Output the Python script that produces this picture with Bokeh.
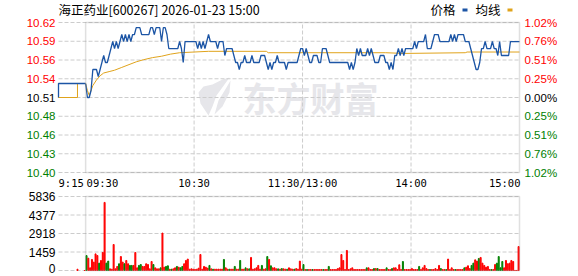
from bokeh.plotting import figure
from bokeh.layouts import column
from bokeh.models import (Range1d, Label, BoxAnnotation, PolyAnnotation, ColumnDataSource)
from bokeh.embed import file_html
from bokeh.resources import INLINE

# ---------------- data ----------------
title_text = "海正药业[600267] 2026-01-23 15:00"
pre_close = 10.51
pct_ticks = [1.02, 0.765, 0.51, 0.255, 0.0, -0.255, -0.51, -0.765, -1.02]
price_labels = ["10.62", "10.59", "10.56", "10.54", "10.51", "10.48", "10.46", "10.43", "10.40"]
pct_labels = ["1.02%", "0.76%", "0.51%", "0.25%", "0.00%", "0.25%", "0.51%", "0.76%", "1.02%"]
time_ticks = [-15, 0, 60, 120, 180, 240]
time_labels = ["9:15", "09:30", "10:30", "11:30/13:00", "14:00", "15:00"]
vol_ticks = [0, 1459, 2918, 4377, 5836]

# pre-market (9:15-9:30)
pre_x = [-15, -15, 0]
pre_price = [10.51, 10.53, 10.53]
pre_avg_x = [-15, -15, -4.5, -4.5, 0]
pre_avg = [10.53, 10.51, 10.51, 10.53, 10.53]
pre_vol_x = [-4.5]
pre_vol = [100]

# one price per minute, 9:30 .. 11:30 | 13:01 .. 15:00
price = [
    10.53, 10.51, 10.51, 10.52, 10.55, 10.55, 10.55, 10.54, 10.55, 10.56,
    10.57, 10.56, 10.56, 10.57, 10.58, 10.59, 10.58, 10.59, 10.58, 10.59,
    10.60, 10.59, 10.60, 10.59, 10.60, 10.59, 10.60, 10.60, 10.61, 10.61,
    10.61, 10.60, 10.60, 10.60, 10.60, 10.60, 10.61, 10.61, 10.60, 10.61,
    10.61, 10.61, 10.59, 10.61, 10.61, 10.60, 10.58, 10.58, 10.58, 10.58,
    10.58, 10.58, 10.59, 10.58, 10.56, 10.59, 10.59, 10.59, 10.59, 10.59,
    10.59, 10.59, 10.58, 10.59, 10.58, 10.59, 10.58, 10.59, 10.60, 10.59,
    10.59, 10.59, 10.59, 10.58, 10.59, 10.59, 10.59, 10.57, 10.58, 10.58,
    10.58, 10.58, 10.57, 10.56, 10.56, 10.55, 10.56, 10.56, 10.57, 10.56,
    10.56, 10.56, 10.57, 10.56, 10.56, 10.56, 10.56, 10.57, 10.57, 10.57,
    10.56, 10.55, 10.56, 10.55, 10.56, 10.56, 10.57, 10.56, 10.56, 10.56,
    10.56, 10.55, 10.56, 10.56, 10.56, 10.56, 10.56, 10.56, 10.57, 10.58,
    10.58, 10.57, 10.58, 10.57, 10.56, 10.56, 10.57, 10.57, 10.57, 10.56,
    10.56, 10.58, 10.58, 10.58, 10.57, 10.56, 10.56, 10.56, 10.56, 10.56,
    10.56, 10.56, 10.56, 10.56, 10.56, 10.56, 10.55, 10.56, 10.55, 10.56,
    10.58, 10.57, 10.58, 10.57, 10.57, 10.57, 10.58, 10.57, 10.58, 10.57,
    10.56, 10.56, 10.56, 10.57, 10.57, 10.57, 10.56, 10.56, 10.55, 10.56,
    10.55, 10.57, 10.57, 10.58, 10.57, 10.58, 10.57, 10.58, 10.58, 10.58,
    10.58, 10.58, 10.59, 10.58, 10.59, 10.59, 10.59, 10.59, 10.60, 10.58,
    10.58, 10.58, 10.59, 10.60, 10.60, 10.60, 10.59, 10.59, 10.59, 10.59,
    10.59, 10.59, 10.60, 10.59, 10.60, 10.59, 10.60, 10.60, 10.60, 10.60,
    10.59, 10.59, 10.59, 10.58, 10.57, 10.56, 10.55, 10.55, 10.56, 10.58,
    10.58, 10.59, 10.58, 10.58, 10.58, 10.59, 10.58, 10.58, 10.57, 10.59,
    10.57, 10.57, 10.57, 10.57, 10.57, 10.59, 10.59, 10.59, 10.59, 10.59,
    10.59,
]

# average-price line (minute, value)
avg_x = [0, 1, 2, 4, 6, 8, 10, 13, 16, 20, 24, 28, 32, 37, 42, 47, 52, 60,
         68, 100, 101, 166, 176, 210, 211, 240]
avg_y = [10.53, 10.52, 10.513, 10.527, 10.535, 10.541, 10.545, 10.547, 10.549,
         10.553, 10.557, 10.561, 10.564, 10.567, 10.569, 10.572, 10.574, 10.575,
         10.576, 10.576, 10.574, 10.574, 10.573, 10.574, 10.575, 10.575]

# volume per minute and direction (r = up, g = down)
volume = [
    0, 1180, 970, 210, 870, 660, 1310, 1180, 580, 790,
    1420, 5370, 580, 740, 130, 100, 2050, 130, 320, 530,
    1100, 660, 530, 790, 530, 400, 400, 400, 1420, 210,
    400, 470, 320, 320, 530, 470, 130, 710, 470, 210,
    130, 130, 210, 2950, 260, 320, 370, 100, 100, 130,
    210, 320, 260, 210, 320, 530, 790, 900, 100, 130,
    100, 80, 100, 180, 1260, 100, 320, 260, 180, 400,
    130, 100, 100, 100, 100, 100, 100, 870, 210, 100,
    100, 100, 100, 320, 100, 100, 790, 100, 100, 210,
    130, 130, 1030, 100, 130, 210, 400, 100, 400, 100,
    130, 1100, 870, 370, 210, 210, 130, 130, 100, 150,
    130, 100, 100, 210, 130, 100, 100, 150, 100, 740,
    100, 470, 80, 80, 80, 80, 80, 80, 80, 80,
    80, 80, 80, 80, 80, 320, 80, 80, 80, 80,
    150, 210, 1260, 790, 80, 1580, 80, 130, 210, 80,
    80, 80, 80, 80, 80, 80, 210, 210, 80, 80,
    150, 150, 150, 80, 80, 80, 80, 210, 80, 80,
    150, 210, 210, 80, 450, 80, 710, 80, 80, 80,
    80, 150, 80, 80, 80, 320, 80, 210, 400, 150,
    80, 80, 80, 80, 150, 80, 400, 150, 80, 80,
    80, 900, 80, 210, 80, 80, 80, 80, 80, 80,
    210, 260, 370, 150, 400, 580, 840, 740, 950, 1030,
    580, 400, 260, 320, 80, 80, 80, 470, 580, 1100,
    210, 710, 210, 790, 530, 580, 790, 710, 0, 0,
    1890,
]
vol_dir = ("rgrrrrrrgr" "rrggrrrrrg" "rrgrrggrrr" "ggrrrrrrgr" "rrgrrggrgr"
           "rgrggrrrrr" "rrrrrrrrrg" "rgrrrrrgrr" "grrgrrgrrg" "rgrrrrrrgr"
           "rgrgrrrgrg" "rrgrrrgrrr" "rgrgrrgrrr" "rrgrrgrrrr" "rrrrrrrrrr"
           "rrrrrrgrrr" "grgrrrrgrr" "grrrrrgrrr" "rrrrrgrrrr" "rgrrrrrgrr"
           "grrrrgrrrr" "grrrggrrgr" "rrrrrgrrgg" "ggrrrrrrrrr")

# ---------------- styling / layout ----------------
BLUE = "#1c55a5"
ORANGE = "#e0a31b"
RED = "#ff0000"
GREEN = "#008000"
GRID = "#cccccc"
BORDER = "#999999"
DASH = "4 2"
NUM_FONT = "Liberation Sans"
MONO = "DejaVu Sans Mono"
CJK = "Noto Sans CJK SC"

W = 578
PLOT_L, PLOT_R = 58, 519           # pixel span of minutes -15 .. 240
PH, P_TOP, P_BOT = 190, 22, 172    # price canvas height and frame pixels
VH, V_TOP, V_BOT = 86, 6, 80       # volume canvas height and frame pixels

minutes = list(range(len(price)))
price_ticks = [pre_close * (1 + q / 100.0) for q in pct_ticks]
lo, hi = price_ticks[-1], price_ticks[0]

t0, t1 = time_ticks[0], time_ticks[-1]
ppm = (PLOT_R - PLOT_L) / (t1 - t0)
x_range = Range1d(t0 - PLOT_L / ppm, t1 + (W - PLOT_R) / ppm)

pu = (hi - lo) / (P_BOT - P_TOP)
p = figure(width=W, height=PH, x_range=x_range,
           y_range=Range1d(lo - (PH - P_BOT) * pu, hi + P_TOP * pu),
           x_axis_type=None, y_axis_type=None, toolbar_location=None,
           output_backend="svg", title=None,
           min_border_left=0, min_border_right=0, min_border_top=0, min_border_bottom=0)
p.outline_line_color = None
p.background_fill_color = "white"
p.border_fill_color = "white"

# watermark
p.add_layout(Label(x=310, y=PH - 97, x_units="screen", y_units="screen", text="东方财富",
                   text_font=CJK, text_font_style="bold", text_font_size="34px",
                   text_color="#e6e6ea", text_align="center", text_baseline="middle",
                   level="image"))
logo1 = [(208, 115), (200, 103), (198, 92), (203, 86), (212, 84), (222, 79),
         (229, 77), (224, 84), (216, 95), (212, 106)]
logo2 = [(214, 114), (218, 100), (226, 87), (230, 80), (229, 92), (222, 106)]
for shape in (logo1, logo2):
    p.add_layout(PolyAnnotation(xs=[a for a, b in shape], ys=[PH - b for a, b in shape],
                                xs_units="screen", ys_units="screen",
                                fill_color="#e6e6ea", fill_alpha=1, line_alpha=0,
                                level="image"))

# dashed grid
vgrid = time_ticks[2:5]
p.segment(x0=[t0] * len(price_ticks), x1=[t1] * len(price_ticks), y0=price_ticks, y1=price_ticks,
          line_color=GRID, line_dash=DASH, line_width=1)
p.segment(x0=vgrid, x1=vgrid, y0=[lo] * 3, y1=[hi] * 3,
          line_color=GRID, line_dash=DASH, line_width=1)

p.line(pre_avg_x, pre_avg, color=ORANGE, line_width=1)
p.line(pre_x, pre_price, color=BLUE, line_width=1.3)
p.line(avg_x, avg_y, color=ORANGE, line_width=1)
p.line(minutes, price, color=BLUE, line_width=1.3)

p.add_layout(BoxAnnotation(left=0, right=t1, bottom=lo, top=hi, fill_alpha=0,
                           line_color=BORDER, line_width=1.5))

def sign_color(val):
    return RED if val > 0 else (GREEN if val < 0 else "#000000")

for val, pct, lab, plab in zip(price_ticks, pct_ticks, price_labels, pct_labels):
    c = sign_color(pct)
    p.add_layout(Label(x=PLOT_L - 3, y=val, x_units="screen", y_units="data", text=lab,
                       text_align="right", text_baseline="middle", text_color=c,
                       text_font=NUM_FONT, text_font_size="11.5px"))
    p.add_layout(Label(x=PLOT_R + 5, y=val, x_units="screen", y_units="data", text=plab,
                       text_align="left", text_baseline="middle", text_color=c,
                       text_font=NUM_FONT, text_font_size="11.5px"))

aligns = ["left", "left", "center", "center", "center", "right"]
offs = [0, 1, 0, 0, 0, 1]
for t, lab, al, off in zip(time_ticks, time_labels, aligns, offs):
    p.add_layout(Label(x=t, y=PH - 182, x_units="data", y_units="screen", text=lab,
                       x_offset=off, text_align=al, text_baseline="middle",
                       text_color="#000000", text_font=MONO, text_font_size="10.5px"))

# title and legend
def top_text(x, txt):
    p.add_layout(Label(x=x, y=PH - 9, x_units="screen", y_units="screen", text=txt,
                       text_align="left", text_baseline="middle", text_color="#000000",
                       text_font=CJK, text_font_size="12.5px"))

top_text(PLOT_L, title_text)
top_text(430, "价格")
top_text(475, "均线")
for lx, col in ((462, BLUE), (507, ORANGE)):
    p.add_layout(BoxAnnotation(left=lx, right=lx + 5, bottom=PH - 11, top=PH - 8,
                               left_units="screen", right_units="screen",
                               bottom_units="screen", top_units="screen",
                               fill_color=col, fill_alpha=1, line_alpha=0))

# ---------------- volume ----------------
vmax = vol_ticks[-1]
vu = vmax / (V_BOT - V_TOP)
v = figure(width=W, height=VH, x_range=x_range,
           y_range=Range1d(-(VH - V_BOT) * vu, vmax + V_TOP * vu),
           x_axis_type=None, y_axis_type=None, toolbar_location=None,
           output_backend="svg", title=None,
           min_border_left=0, min_border_right=0, min_border_top=0, min_border_bottom=0)
v.outline_line_color = None
v.background_fill_color = "white"
v.border_fill_color = "white"

v.segment(x0=[t0] * len(vol_ticks), x1=[t1] * len(vol_ticks), y0=vol_ticks, y1=vol_ticks,
          line_color=GRID, line_dash=DASH, line_width=1)
v.segment(x0=vgrid, x1=vgrid, y0=[0] * 3, y1=[vmax] * 3,
          line_color=GRID, line_dash=DASH, line_width=1)

vsrc = ColumnDataSource(dict(
    x=[m - 0.5 for m in minutes] + pre_vol_x,
    top=volume + pre_vol,
    color=[RED if d == "r" else GREEN for d in vol_dir] + [RED],
))
v.vbar(x="x", top="top", bottom=0, width=0.55, color="color", source=vsrc)

v.add_layout(BoxAnnotation(left=0, right=t1, bottom=0, top=vmax,
                           fill_alpha=0, line_color=BORDER, line_width=1.5))

for t in vol_ticks:
    v.add_layout(Label(x=PLOT_L - 3, y=t, x_units="screen", y_units="data", text=str(t),
                       y_offset=2 if t == 0 else 0,
                       text_align="right", text_baseline="middle", text_color="#000000",
                       text_font=NUM_FONT, text_font_size="12px"))

layout = column(p, v, spacing=0)
open("out.html", "w").write(file_html(layout, INLINE))
